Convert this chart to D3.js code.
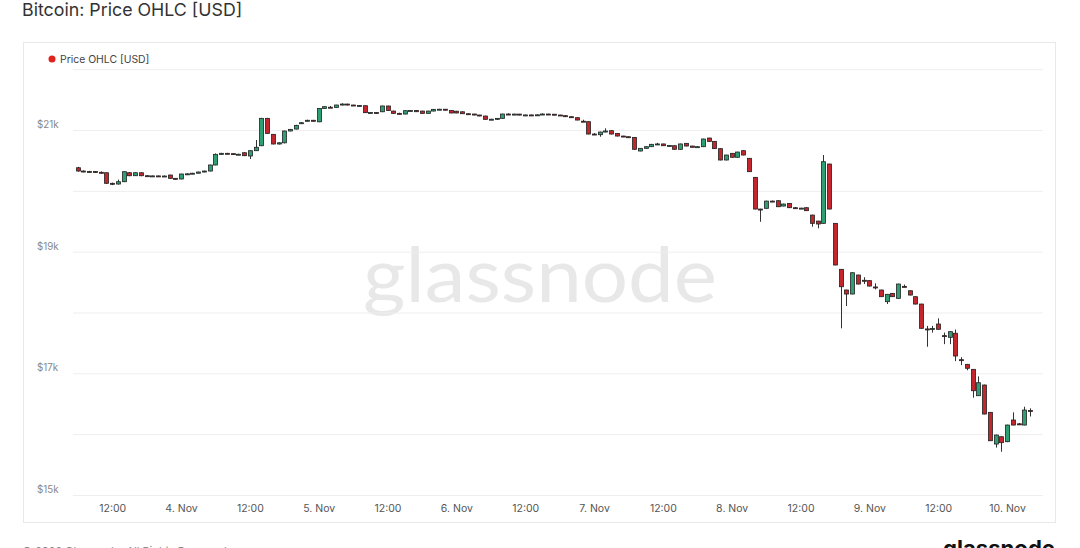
<!DOCTYPE html>
<html><head><meta charset="utf-8">
<script src="https://cdn.jsdelivr.net/npm/d3@7"></script>
<style>
body{margin:0;background:#fff;}
svg{display:block;font-family:Inter,"Open Sans",Roboto,sans-serif;}
</style>
</head><body>
<svg id="c" width="1080" height="548"></svg>
<script>
// Hourly candles starting 3 Nov 2022 06:00 UTC
const openP = [20380,20326,20315,20318,20305,20298,20124,20112,20150,20298,20249,20298,20249,20244,20246,20240,20260,20206,20195,20277,20280,20290,20310,20326,20425,20600,20617,20612,20600,20627,20573,20660,20742,21192,20929,20770,20790,20984,21016,21110,21150,21160,21135,21355,21375,21372,21411,21427,21411,21400,21400,21285,21287,21300,21395,21312,21274,21263,21318,21322,21312,21274,21312,21340,21342,21320,21310,21300,21268,21263,21247,21230,21176,21178,21192,21263,21260,21262,21247,21248,21246,21250,21263,21260,21247,21236,21219,21203,21145,21137,20934,20923,20967,20989,20945,20901,20890,20879,20655,20699,20726,20765,20771,20742,20742,20683,20781,20737,20716,20726,20868,20814,20694,20507,20617,20552,20660,20535,20222,19701,19713,19832,19838,19750,19794,19723,19713,19723,19602,19503,19466,20441,19466,18710,18370,18304,18616,18530,18524,18420,18370,18178,18315,18233,18430,18358,18260,18139,17730,17730,17811,17620,17592,17659,17225,17148,17066,16632,16808,16359,15838,15958,15876,16233,16170,16150,16390];
const highP = [20395,20335,20330,20325,20320,20300,20135,20185,20320,20310,20305,20305,20255,20252,20250,20252,20265,20210,20282,20288,20296,20315,20332,20430,20615,20625,20625,20615,20610,20632,20665,20836,21200,21200,20935,20798,20990,21018,21085,21128,21170,21168,21360,21390,21395,21415,21440,21432,21415,21410,21405,21292,21292,21400,21400,21318,21285,21322,21328,21326,21316,21316,21346,21348,21346,21325,21315,21305,21272,21266,21250,21235,21185,21198,21268,21275,21268,21265,21254,21254,21256,21275,21268,21264,21250,21240,21222,21208,21170,21142,20950,20972,21028,20995,20950,20905,20893,20884,20704,20732,20772,20790,20775,20752,20748,20776,20786,20740,20732,20858,20874,20818,20698,20594,20622,20643,20665,20540,20227,19705,19838,19840,19845,19790,19800,19735,19722,19728,19607,19508,20589,20446,19470,18715,18375,18660,18622,18580,18530,18480,18375,18305,18320,18474,18460,18363,18265,18144,17780,17780,17904,17670,17692,17720,17265,17155,17070,16950,16815,16364,15992,15965,16156,16359,16185,16451,16425];
const lowP = [20315,20305,20305,20295,20285,20115,20095,20105,20145,20240,20245,20240,20238,20236,20232,20235,20200,20185,20190,20270,20275,20285,20305,20320,20420,20595,20605,20592,20593,20572,20523,20655,20735,20940,20765,20762,20780,20978,21010,21100,21145,21145,21130,21350,21370,21368,21405,21405,21395,21395,21280,21278,21275,21295,21315,21268,21264,21258,21312,21296,21270,21270,21308,21334,21324,21275,21276,21265,21255,21242,21226,21170,21168,21172,21188,21255,21254,21242,21240,21240,21240,21246,21254,21242,21230,21214,21204,21160,21132,20928,20924,20890,20962,20928,20895,20884,20868,20678,20650,20694,20720,20760,20738,20736,20678,20678,20732,20712,20710,20720,20808,20690,20502,20502,20547,20547,20584,20310,19696,19492,19708,19815,19734,19745,19718,19708,19708,19668,19410,19384,19460,19696,18776,17740,18107,18299,18463,18468,18430,18380,18255,18140,18255,18228,18418,18282,18134,17735,17437,17670,17718,17480,17480,17200,17135,17050,16600,16628,16326,15887,15780,15711,15870,16145,16150,16145,16290];
const closeP = [20326,20315,20318,20305,20298,20124,20112,20150,20315,20249,20298,20249,20244,20246,20240,20244,20206,20195,20277,20280,20290,20310,20326,20425,20600,20617,20612,20600,20602,20578,20660,20716,21192,20945,20770,20790,20984,21011,21077,21120,21160,21153,21355,21384,21372,21411,21427,21411,21400,21402,21285,21287,21282,21395,21320,21274,21270,21318,21322,21301,21274,21312,21340,21342,21329,21280,21280,21268,21263,21247,21232,21176,21178,21192,21263,21260,21262,21247,21248,21246,21250,21263,21260,21247,21236,21219,21209,21164,21140,20934,20930,20967,20984,20934,20901,20890,20874,20683,20699,20726,20765,20771,20742,20745,20683,20771,20737,20716,20726,20852,20814,20694,20507,20589,20552,20638,20589,20315,19701,19690,19832,19821,19739,19783,19723,19713,19716,19674,19466,19455,20479,19701,18781,18424,18304,18654,18468,18520,18435,18410,18260,18299,18260,18468,18424,18287,18139,17740,17720,17738,17724,17610,17685,17285,17215,17083,16714,16846,16331,15892,15986,15860,16150,16150,16165,16397,16385];

const startUTC = Date.UTC(2022, 10, 3, 6);
const HOUR = 3600e3;

const yTicks = [15000,16000,17000,18000,19000,20000,21000,22000];
const yTickLabels = {15000:"$15k",17000:"$17k",19000:"$19k",21000:"$21k"};

const xTickTimes = [
  Date.UTC(2022,10,3,12), Date.UTC(2022,10,4,0), Date.UTC(2022,10,4,12), Date.UTC(2022,10,5,0),
  Date.UTC(2022,10,5,12), Date.UTC(2022,10,6,0), Date.UTC(2022,10,6,12), Date.UTC(2022,10,7,0),
  Date.UTC(2022,10,7,12), Date.UTC(2022,10,8,0), Date.UTC(2022,10,8,12), Date.UTC(2022,10,9,0),
  Date.UTC(2022,10,9,12), Date.UTC(2022,10,10,0)];
const xTickLabels = ["12:00","4. Nov","12:00","5. Nov","12:00","6. Nov","12:00","7. Nov","12:00","8. Nov","12:00","9. Nov","12:00","10. Nov"];

const candles = openP.map((o,i)=>({t:new Date(startUTC + i*HOUR), o, h:highP[i], l:lowP[i], c:closeP[i]}));

const svg = d3.select("#c");
const pLeft = 73, pRight = 1043, pTop = 69.2, pBottom = 495;

const x = d3.scaleTime()
  .domain([new Date(startUTC - 0.83*HOUR), new Date(startUTC + 168.27*HOUR)])
  .range([pLeft, pRight]);
const y = d3.scaleLinear().domain([15000,22000]).range([pBottom, pTop]);

// title
svg.append("text").attr("x",22).attr("y",16).attr("font-size",17.8).attr("fill","#333")
  .text("Bitcoin: Price OHLC [USD]");

// panel box
svg.append("rect").attr("x",23.5).attr("y",42.5).attr("width",1032).attr("height",480)
  .attr("fill","#fff").attr("stroke","#e8e8e8");

// legend
svg.append("circle").attr("cx",52).attr("cy",59).attr("r",3.5).attr("fill","#e3211c");
svg.append("text").attr("x",60).attr("y",62.5).attr("font-size",10.4).attr("fill","#444")
  .text("Price OHLC [USD]");

// watermark
svg.append("text").attr("x",540).attr("y",302).attr("text-anchor","middle")
  .attr("font-size",76).attr("fill","#e8e8e8").attr("font-family","Lato, Inter, sans-serif")
  .attr("textLength",354).attr("lengthAdjust","spacingAndGlyphs")
  .text("glassnode");

// grid
const yAxis = d3.axisLeft(y).tickValues(yTicks).tickSize(-(pRight-pLeft)).tickFormat("");
const gy = svg.append("g").attr("transform",`translate(${pLeft},0)`).call(yAxis);
gy.select(".domain").remove();
gy.selectAll(".tick line").attr("stroke","#eeeeee").attr("stroke-width",1);

// y labels above gridlines
svg.append("g").selectAll("text").data(yTicks.filter(v=>yTickLabels[v]))
  .join("text").attr("x",37).attr("y",v=>y(v)-2).attr("font-size",9.8).attr("fill","#888")
  .text(v=>yTickLabels[v]);

// x axis
const xAxis = d3.axisBottom(x).tickValues(xTickTimes.map(d=>new Date(d)))
  .tickSize(0).tickPadding(10).tickFormat((d,i)=>xTickLabels[i]);
const gx = svg.append("g").attr("transform",`translate(0,${pBottom})`).call(xAxis);
gx.select(".domain").remove();
gx.selectAll("text").attr("font-size",10.5).attr("fill","#555").attr("font-family","Inter,'Open Sans',sans-serif");

// candles
const bw = 4;
const g = svg.append("g");
const cg = g.selectAll("g.c").data(candles).join("g").attr("class","c");
cg.append("line")
  .attr("x1",d=>Math.round(x(d.t))+0.5).attr("x2",d=>Math.round(x(d.t))+0.5)
  .attr("y1",d=>y(d.h)).attr("y2",d=>y(d.l))
  .attr("stroke","#333").attr("stroke-width",1);
cg.append("rect")
  .attr("x",d=>Math.round(x(d.t))+0.5-bw/2)
  .attr("width",bw)
  .attr("y",d=>y(Math.max(d.o,d.c)))
  .attr("height",d=>Math.max(1,Math.abs(y(d.o)-y(d.c))))
  .attr("fill",d=>d.c>=d.o?"#2f9e72":"#c4262e")
  .attr("stroke","#222").attr("stroke-width",0.8);

// footer (partly below the visible area, as in the reference)
svg.append("text").attr("x",22).attr("y",555).attr("font-size",11).attr("fill","#888")
  .text("© 2022 Glassnode. All Rights Reserved.");
svg.append("text").attr("x",1055).attr("y",556).attr("text-anchor","end").attr("font-size",22)
  .attr("font-weight","bold").attr("fill","#111").attr("textLength",112).attr("lengthAdjust","spacingAndGlyphs")
  .text("glassnode");
</script>
</body></html>
